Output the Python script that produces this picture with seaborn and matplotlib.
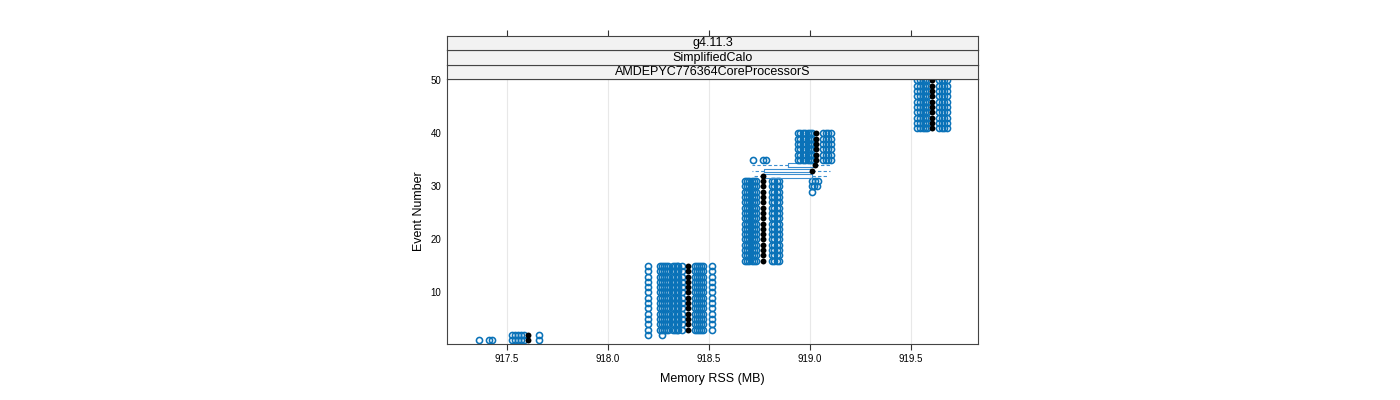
import numpy as np
import pandas as pd
import seaborn as sns
import matplotlib.pyplot as plt

azul = '#0a72b8'

# Evento 1
ev_1 = [1]
rss_1 = [917.361, 917.411, 917.426, 917.525, 917.540, 917.555, 917.570, 917.584, 917.604, 917.658]
n_1 = [1, 1, 1, 1, 1, 1, 1, 1, 30, 1]

# Evento 2
ev_2 = [2]
rss_2 = [917.525, 917.540, 917.555, 917.570, 917.584, 917.604, 917.658, 918.198, 918.267]
n_2 = [1, 1, 1, 1, 1, 30, 1, 1, 1]

# Eventos 3-15
ev_b = [3, 4, 5, 6, 7, 8, 9, 10, 11, 12, 13, 14, 15]
rss_b = [918.198, 918.257, 918.267, 918.277, 918.287, 918.297, 918.320, 918.330, 918.340,
         918.347, 918.366, 918.396, 918.431, 918.441, 918.451, 918.461, 918.470, 918.515]
n_b = [1, 1, 1, 1, 1, 1, 1, 1, 1, 1, 1, 50, 1, 1, 1, 1, 1, 1]

# Eventos 16-31
ev_c = [16, 17, 18, 19, 20, 21, 22, 23, 24, 25, 26, 27, 28, 29, 30, 31]
rss_c = [918.678, 918.689, 918.700, 918.711, 918.722, 918.733, 918.767, 918.812, 918.824, 918.836, 918.847]
n_c = [1, 1, 1, 1, 1, 1, 40, 1, 1, 1, 1]

# valores extra en eventos 29-31
ev_29, rss_29, n_29 = [29], [919.010], [1]
ev_30, rss_30, n_30 = [30], [919.010, 919.022, 919.035], [1, 1, 1]
ev_31, rss_31, n_31 = [31], [919.010, 919.025, 919.040], [1, 1, 1]

# Eventos 32-34 (transicion)
ev_32, rss_32, n_32 = [32], [918.713, 918.767, 919.010, 919.050, 919.084], [1, 6, 3, 1, 1]
ev_33, rss_33, n_33 = [33], [918.713, 918.772, 918.850, 919.010, 919.060, 919.100], [1, 3, 1, 6, 1, 1]
ev_34, rss_34, n_34 = [34], [918.713, 918.770, 918.891, 918.950, 919.025, 919.060, 919.100], [1, 1, 2, 1, 6, 1, 1]

# Eventos 35-40
ev_d = [35, 36, 37, 38, 39, 40]
rss_d = [918.941, 918.953, 918.965, 918.977, 918.989, 919.000, 919.008, 919.032,
         919.064, 919.077, 919.090, 919.104]
n_d = [1, 1, 1, 1, 1, 1, 1, 40, 1, 1, 1, 1]
ev_35, rss_35, n_35 = [35], [918.718, 918.767, 918.780], [1, 1, 1]

# Eventos 41-50
ev_e = [41, 42, 43, 44, 45, 46, 47, 48, 49, 50]
rss_e = [919.530, 919.545, 919.560, 919.570, 919.580, 919.604, 919.639, 919.652, 919.665, 919.678]
n_e = [1, 1, 1, 1, 1, 30, 1, 1, 1, 1]

x_ticks = [917.5, 918.0, 918.5, 919.0, 919.5]
y_ticks = [10, 20, 30, 40, 50]

grupos = [(ev_1, rss_1, n_1), (ev_2, rss_2, n_2), (ev_b, rss_b, n_b), (ev_c, rss_c, n_c),
          (ev_29, rss_29, n_29), (ev_30, rss_30, n_30), (ev_31, rss_31, n_31),
          (ev_32, rss_32, n_32), (ev_33, rss_33, n_33), (ev_34, rss_34, n_34),
          (ev_d, rss_d, n_d), (ev_35, rss_35, n_35), (ev_e, rss_e, n_e)]
filas = []
for evs, vals, cnts in grupos:
    for ev in evs:
        for v in np.repeat(vals, cnts):
            filas.append((ev, v))
df = pd.DataFrame(filas, columns=['Event', 'RSS'])

plt.rcParams['font.family'] = ['Liberation Sans', 'DejaVu Sans']
fig = plt.figure(figsize=(14, 4), dpi=100)
ax = fig.add_axes([447/1400, 56/400, 531/1400, 265/400])

sns.boxplot(data=df, x='RSS', y='Event', orient='h', native_scale=True, width=0.7,
            fill=False, color=azul, linecolor=azul, linewidth=0.8, whis=1.5, showcaps=False,
            flierprops=dict(marker='o', markerfacecolor='none', markeredgecolor=azul,
                            markersize=4.4, markeredgewidth=1.15),
            medianprops=dict(visible=False),
            whiskerprops=dict(linestyle=(0, (3, 2)), color=azul), ax=ax)

# cajas y bigotes en azul (seaborn los deja oscuros)
for ln in ax.lines:
    if ln.get_marker() in ('None', None, '', ' '):
        ln.set_color('#3d8fd0')

med = df.groupby('Event')['RSS'].median().reset_index()
sns.scatterplot(data=med, x='RSS', y='Event', color='black', s=18, linewidth=0, ax=ax, zorder=5)

ax.set_xlim(917.203, 919.832)
ax.set_ylim(0.28, 50.28)
ax.set_xticks(x_ticks)
ax.set_xticklabels(['917.5', '918.0', '918.5', '919.0', '919.5'])
ax.set_yticks(y_ticks)
ax.grid(axis='x', color='#e8e8e8', lw=0.8)
ax.set_axisbelow(True)
ax.tick_params(axis='x', direction='out', length=4.5, width=0.8, color='#333333', labelsize=7, pad=3)
ax.tick_params(axis='y', length=0, labelsize=7, pad=4)
for s in ax.spines.values():
    s.set_color('#444444')
    s.set_linewidth(0.8)
ax.set_xlabel('Memory RSS (MB)', fontsize=9, labelpad=6)
ax.set_ylabel('Event Number', fontsize=9, labelpad=4)

# tiras de lattice
tiras = ['AMDEPYC776364CoreProcessorS', 'SimplifiedCalo', 'g4.11.3']
for i, t in enumerate(tiras):
    sax = fig.add_axes([447/1400, (321 + i*14.5)/400, 531/1400, 14.5/400])
    sax.set_facecolor('#f2f2f2')
    sax.set_xlim(ax.get_xlim())
    sax.set_yticks([])
    for s in sax.spines.values():
        s.set_color('#444444')
        s.set_linewidth(0.8)
    sax.text(0.5, 0.45, t, ha='center', va='center', fontsize=9, transform=sax.transAxes)
    if i == 2:
        sax.set_xticks(x_ticks)
        sax.tick_params(axis='x', top=True, bottom=False, labeltop=False, labelbottom=False,
                        direction='out', length=4.5, width=0.8, color='#333333')
    else:
        sax.set_xticks([])

fig.savefig('out.png', dpi=100)
